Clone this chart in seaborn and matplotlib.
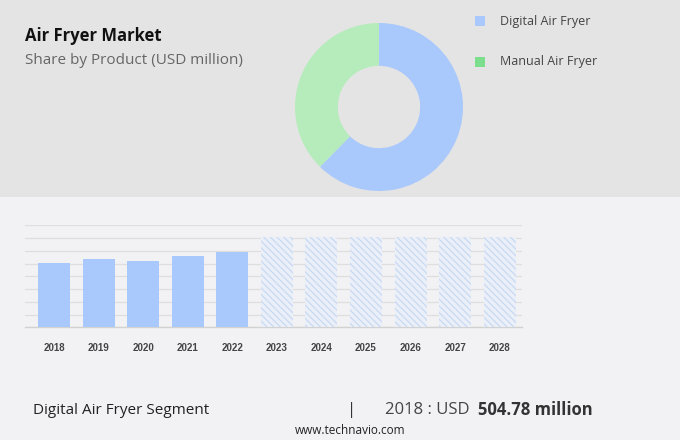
import matplotlib
matplotlib.use("Agg")
import matplotlib.pyplot as plt
import seaborn as sns
import pandas as pd
from matplotlib.patches import Rectangle

# ---- data ----
segments = ["Digital Air Fryer", "Manual Air Fryer"]
shares = [62.4, 37.6]
years = ["2018", "2019", "2020", "2021", "2022", "2023", "2024", "2025", "2026", "2027", "2028"]
values = [504.78, 536, 523, 557, 594, 708, 708, 708, 708, 708, 708]
forecast_from = "2023"
yticks = [0, 100, 200, 300, 400, 500, 600, 700, 800]

BLUE = "#a9c8fc"
GREEN = "#b6ecbc"
GREEN_LEG = "#7ddf8e"

sns.set_theme(style="white")
plt.rcParams["font.family"] = ["Open Sans", "DejaVu Sans"]
plt.rcParams["hatch.linewidth"] = 0.9

W, H = 680, 440
fig = plt.figure(figsize=(W / 100, H / 100), dpi=100)
fig.patch.set_facecolor("#f2f2f4")

def fx(px):
    return px / W

def fy(py):
    return 1 - py / H

# top panel background
fig.patches.append(Rectangle((0, fy(197)), 1, 197 / H, transform=fig.transFigure,
                             facecolor="#e4e4e4", edgecolor="none", zorder=-5))

# titles
fig.text(fx(25), fy(36), "Air Fryer Market", fontsize=12, fontweight="bold",
         color="#111111", va="center", ha="left")
fig.text(fx(25), fy(61), "Share by Product (USD million)", fontsize=11,
         color="#666666", va="center", ha="left")

# donut
cx, cy, r = 379, 107, 84
axp = fig.add_axes([fx(cx - r), fy(cy + r), 2 * r / W, 2 * r / H])
axp.pie(shares, colors=[BLUE, GREEN], startangle=90, counterclock=False,
        radius=1, wedgeprops=dict(width=0.51, edgecolor="none"))
axp.set_xlim(-1, 1)
axp.set_ylim(-1, 1)
axp.set_aspect("equal")
axp.axis("off")

# legend
for i, (lab, col) in enumerate(zip(segments, [BLUE, GREEN_LEG])):
    yy = 21 + i * 41
    fig.patches.append(Rectangle((fx(475), fy(yy + 5)), 10 / W, 10 / H,
                                 transform=fig.transFigure, facecolor=col,
                                 edgecolor="none"))
    fig.text(fx(500), fy(yy), lab, fontsize=9, color="#444444",
             va="center", ha="left")

# bar chart
ax = fig.add_axes([fx(25), fy(327.3), (522 - 25) / W, (327.3 - 225.3) / H])
ax.set_facecolor("none")
df = pd.DataFrame({"year": years, "value": values})
sns.barplot(data=df, x="year", y="value", ax=ax, color=BLUE, saturation=1,
            width=0.72, zorder=3)
fc_idx = years.index(forecast_from)
for i, p in enumerate(ax.patches):
    p.set_edgecolor("none")
    p.set_linewidth(0)
    if i >= fc_idx:
        p.set_facecolor("#ebeff7")
        p.set_edgecolor("#c9d9f4")
        p.set_hatch("\\\\\\\\\\")
        p.set_linewidth(0)
ax.set_xlim(-0.65, 10.5)
ax.set_ylim(0, 800)
ax.set_yticks(yticks)
ax.yaxis.grid(True, color="#dedede", linewidth=0.9, zorder=0)
ax.tick_params(axis="y", left=False, labelleft=False)
ax.tick_params(axis="x", bottom=False, pad=5, labelsize=7, labelcolor="#444444")
for t in ax.get_xticklabels():
    t.set_fontweight("bold")
    t.set_family(["Liberation Sans", "DejaVu Sans"])
ax.set_xlabel("")
ax.set_ylabel("")
for s in ["top", "right", "left"]:
    ax.spines[s].set_visible(False)
ax.spines["bottom"].set_color("#d2d2d2")
ax.spines["bottom"].set_linewidth(1.0)

# bottom texts
fig.text(fx(33), fy(410), "Digital Air Fryer Segment", fontsize=11,
         color="#222222", va="center", ha="left")
fig.text(fx(352), fy(410), "|", fontsize=12, color="#333333", va="center", ha="center")
fig.text(fx(385), fy(410), "2018 : USD", fontsize=12, color="#444444",
         va="center", ha="left")
fig.text(fx(478), fy(410), "504.78 million", fontsize=12, fontweight="bold",
         color="#333333", va="center", ha="left")
fig.text(fx(350), fy(430), "www.technavio.com", fontsize=8.5, color="#222222",
         va="center", ha="center")

fig.savefig("out.png", dpi=100, facecolor=fig.get_facecolor())
